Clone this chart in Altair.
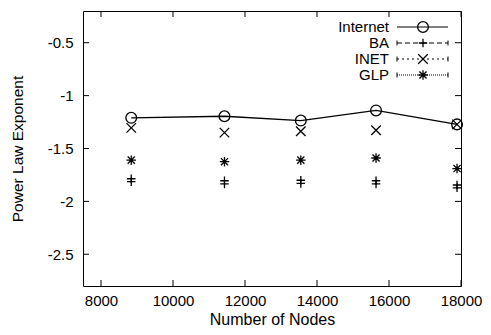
import altair as alt
import pandas as pd

# ---------------- data ----------------
nodes = [8840, 11430, 13550, 15640, 17890]
internet = [-1.21, -1.195, -1.236, -1.14, -1.272]
inet = [-1.305, -1.35, -1.337, -1.327, -1.272]
glp = [-1.61, -1.625, -1.61, -1.59, -1.69]
ba_upper = [-1.786, -1.805, -1.80, -1.805, -1.845]
ba_lower = [-1.814, -1.835, -1.83, -1.835, -1.872]

series_names = ["Internet", "BA", "INET", "GLP"]
x_ticks = [8000, 10000, 12000, 14000, 16000, 18000]
y_ticks = [-0.5, -1.0, -1.5, -2.0, -2.5]

# ---------------- layout ----------------
W, H = 378, 275
XDOM = [7500, 18000]
YDOM = [-2.8, -0.2]
FONT = "Liberation Sans"


def px_x(p):
    return XDOM[0] + p / W * (XDOM[1] - XDOM[0])


def px_y(p):
    return YDOM[1] - p / H * (YDOM[1] - YDOM[0])


xs = alt.Scale(domain=XDOM, nice=False, zero=False)
ys = alt.Scale(domain=YDOM, nice=False, zero=False)

X_PLUS = "M-1,0L1,0M0,-1L0,1"
X_CROSS = "M-1,-1L1,1M-1,1L1,-1"
X_STAR = "M-1,0L1,0M0,-1L0,1M-0.75,-0.75L0.75,0.75M-0.75,0.75L0.75,-0.75"

# ---------------- tables ----------------
df_int = pd.DataFrame({"n": nodes, "v": internet})
df_inet = pd.DataFrame({"n": nodes, "v": inet})
df_glp = pd.DataFrame({"n": nodes, "v": glp})
df_ba = pd.DataFrame({"n": nodes * 2, "v": ba_upper + ba_lower})
df_xt = pd.DataFrame({"t": x_ticks})
df_yt = pd.DataFrame({"t": y_ticks})

xax = alt.Axis(values=x_ticks, ticks=False, tickSize=0, domain=False, grid=False,
               labelFont=FONT, labelFontSize=15, labelColor="black", labelPadding=7,
               labelExpr="toString(datum.value)", labelFlush=False, labelOverlap=False,
               title="Number of Nodes", titleFont=FONT, titleFontSize=16,
               titleFontWeight="normal", titleColor="black", titlePadding=3)
yax = alt.Axis(values=y_ticks, ticks=False, tickSize=0, domain=False, grid=False,
               labelFont=FONT, labelFontSize=15, labelColor="black", labelPadding=10,
               labelExpr="toString(datum.value)", labelFlush=False, labelOverlap=False,
               title="Power Law Exponent", titleFont=FONT, titleFontSize=15.5,
               titleFontWeight="normal", titleColor="black", titlePadding=22)

base_axes = alt.Chart(df_int).mark_point(opacity=0).encode(
    x=alt.X("n:Q", scale=xs, axis=xax),
    y=alt.Y("v:Q", scale=ys, axis=yax),
)

TL = 6
tick_b = alt.Chart(df_xt).mark_rule(color="black", strokeWidth=1).encode(
    x=alt.X("t:Q", scale=xs), y=alt.value(H), y2=alt.value(H - TL))
tick_t = alt.Chart(df_xt).mark_rule(color="black", strokeWidth=1).encode(
    x=alt.X("t:Q", scale=xs), y=alt.value(0), y2=alt.value(TL))
tick_l = alt.Chart(df_yt).mark_rule(color="black", strokeWidth=1).encode(
    y=alt.Y("t:Q", scale=ys), x=alt.value(0), x2=alt.value(TL))
tick_r = alt.Chart(df_yt).mark_rule(color="black", strokeWidth=1).encode(
    y=alt.Y("t:Q", scale=ys), x=alt.value(W), x2=alt.value(W - TL))

enc = dict(x=alt.X("n:Q", scale=xs), y=alt.Y("v:Q", scale=ys))

int_line = alt.Chart(df_int).mark_line(color="black", strokeWidth=1.3).encode(**enc)
int_pts = alt.Chart(df_int).mark_point(shape="circle", filled=False, color="black",
                                       size=115, strokeWidth=1.3, opacity=1).encode(**enc)
inet_pts = alt.Chart(df_inet).mark_point(shape=X_CROSS, filled=False, color="black",
                                         size=90, strokeWidth=1.3, opacity=1).encode(**enc)
glp_pts = alt.Chart(df_glp).mark_point(shape=X_STAR, filled=False, color="black",
                                       size=90, strokeWidth=1.3, opacity=1).encode(**enc)
ba_pts = alt.Chart(df_ba).mark_point(shape=X_PLUS, filled=False, color="black",
                                     size=72, strokeWidth=1.3, opacity=1).encode(**enc)

# ---------------- legend ----------------
row_px = [16, 32, 48, 64]
leg = pd.DataFrame({
    "name": series_names,
    "y": [px_y(p) for p in row_px],
    "yt": [px_y(p - 2.5) for p in row_px],
    "yb": [px_y(p + 2.5) for p in row_px],
    "tx": [px_x(306)] * 4,
    "x1": [px_x(314)] * 4,
    "x2": [px_x(365)] * 4,
    "xm": [px_x(340)] * 4,
})
lx = lambda f: alt.X(f, scale=xs)
ly = lambda f: alt.Y(f, scale=ys)

leg_text = alt.Chart(leg).mark_text(align="right", baseline="middle", font=FONT,
                                    fontSize=15, color="black").encode(
    x=lx("tx:Q"), y=ly("y:Q"), text="name:N")

dashes = {"Internet": [1, 0], "BA": [5, 3], "INET": [2, 3], "GLP": [1, 1]}
shapes = {"Internet": "circle", "BA": X_PLUS, "INET": X_CROSS, "GLP": X_STAR}
sizes = {"Internet": 115, "BA": 72, "INET": 90, "GLP": 90}
leg_layers = []
for nm in series_names:
    d = leg[leg["name"] == nm]
    leg_layers.append(alt.Chart(d).mark_rule(color="black", strokeWidth=1.2,
                                             strokeDash=dashes[nm]).encode(
        x=lx("x1:Q"), x2="x2:Q", y=ly("y:Q")))
    if nm != "Internet":
        leg_layers.append(alt.Chart(d).mark_rule(color="black", strokeWidth=1).encode(
            x=lx("x1:Q"), y=ly("yt:Q"), y2="yb:Q"))
        leg_layers.append(alt.Chart(d).mark_rule(color="black", strokeWidth=1).encode(
            x=lx("x2:Q"), y=ly("yt:Q"), y2="yb:Q"))
    leg_layers.append(alt.Chart(d).mark_point(shape=shapes[nm], filled=False, color="black",
                                              size=sizes[nm], strokeWidth=1.3, opacity=1).encode(
        x=lx("xm:Q"), y=ly("y:Q")))

chart = alt.layer(
    base_axes, tick_b, tick_t, tick_l, tick_r,
    int_line, int_pts, inet_pts, glp_pts, ba_pts,
    leg_text, *leg_layers
).properties(
    width=W, height=H,
    padding={"left": 2, "top": 2, "right": 0, "bottom": 0},
    background="white",
).configure_view(stroke="black", strokeWidth=1)

chart.save("out.html", embed_options={"renderer": "svg", "actions": False})
